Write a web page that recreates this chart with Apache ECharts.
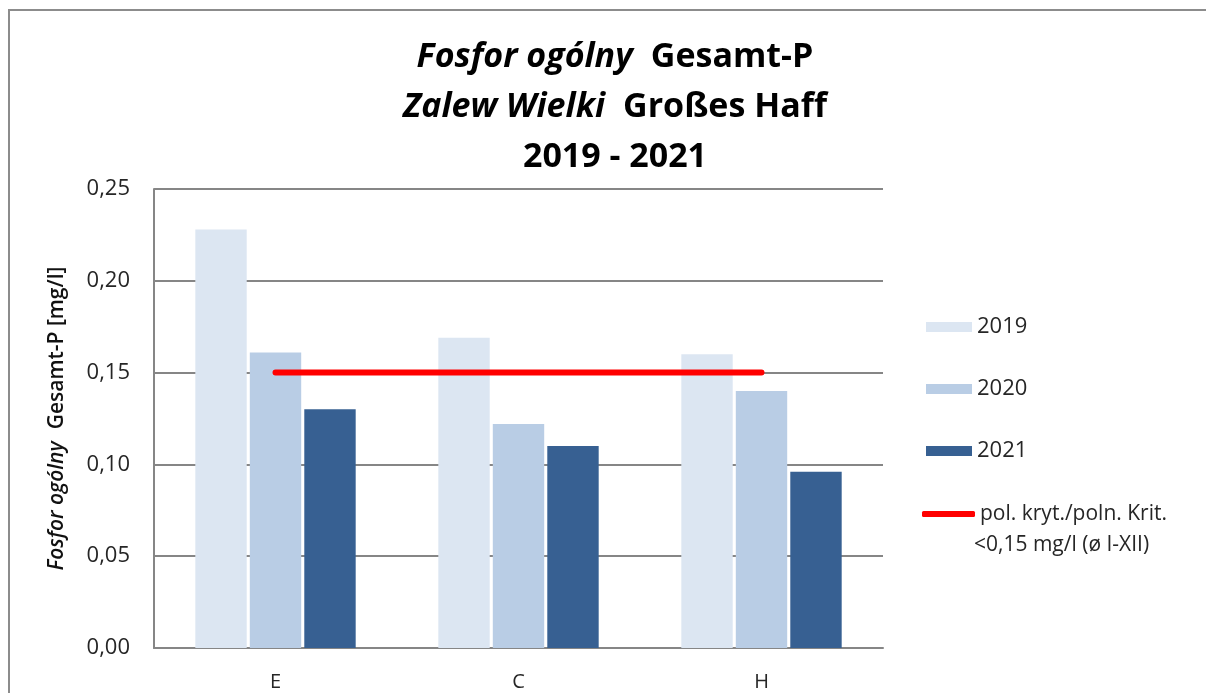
<!DOCTYPE html>
<html>
<head>
<meta charset="utf-8">
<script src="https://cdn.jsdelivr.net/npm/echarts@6/dist/echarts.min.js"></script>
<style>
  html, body { margin: 0; padding: 0; background: #fff; }
  #chart { width: 1206px; height: 693px; }
</style>
</head>
<body>
<div id="chart"></div>
<script>
// stations
const categories = ['E', 'C', 'H'];
// yearly means [mg/l]
const years = ['2019', '2020', '2021'];
const values2019 = [0.228, 0.169, 0.160];
const values2020 = [0.161, 0.122, 0.140];
const values2021 = [0.130, 0.110, 0.096];
// criterion line
const criterionName = 'pol. kryt./poln. Krit.';
const criterionNote = '<0,15 mg/l (ø I-XII)';
const criterion = [0.15, 0.15, 0.15];
const yTicks = [0, 0.05, 0.10, 0.15, 0.20, 0.25];

const barColors = ['#DCE6F2', '#B9CDE5', '#376092'];
const font = '"Open Sans", "Noto Sans", sans-serif';

const chart = echarts.init(document.getElementById('chart'));

const barSeries = [values2019, values2020, values2021].map((vals, i) => ({
    name: years[i],
    type: 'bar',
    data: vals,
    barGap: '6%',
    barCategoryGap: '34%',
    itemStyle: { color: barColors[i] },
    z: 2
}));

const option = {
    backgroundColor: '#fff',
    animation: false,
    textStyle: { fontFamily: font },
    title: {
        text: '{i|Fosfor ogólny}{s| }{b|Gesamt-P}\n{i|Zalew Wielki}{s| }{b|Großes Haff}\n{b|2019 - 2021}',
        left: 610,
        top: 27,
        textAlign: 'center',
        textStyle: {
            rich: {
                i: { fontFamily: font, fontSize: 34, fontWeight: 'bold', fontStyle: 'italic', color: '#000', lineHeight: 50 },
                b: { fontFamily: font, fontSize: 34, fontWeight: 'bold', color: '#000', lineHeight: 50 },
                s: { width: 18, fontSize: 34, lineHeight: 50 }
            }
        }
    },
    grid: { left: 154, right: 323, top: 189, bottom: 45 },
    legend: [{
        data: years,
        orient: 'vertical',
        left: 921,
        top: 310,
        itemWidth: 46,
        itemHeight: 10,
        itemGap: 38,
        icon: 'rect',
        textStyle: { fontFamily: font, fontSize: 22, color: '#262626', lineHeight: 24 }
    }, {
        data: [criterionName],
        orient: 'vertical',
        left: 917,
        top: 497,
        itemWidth: 53,
        itemHeight: 6,
        icon: 'roundRect',
        textStyle: { fontFamily: font, fontSize: 21, color: '#262626', lineHeight: 24 }
    }],
    graphic: [{
        type: 'text',
        left: 974,
        top: 535,
        style: { text: criterionNote, font: '21px ' + font, fill: '#262626' }
    }, {
        type: 'polyline',
        shape: { points: [[9, 700], [9, 10], [1210, 10]] },
        style: { stroke: '#8c8c8c', lineWidth: 2, fill: null }
    }],
    xAxis: {
        type: 'category',
        data: categories,
        axisLine: { lineStyle: { color: '#868686', width: 2 } },
        axisTick: { show: false },
        axisLabel: { fontFamily: font, fontSize: 20, color: '#262626', margin: 24 }
    },
    yAxis: {
        type: 'value',
        min: 0,
        max: 0.25,
        interval: 0.05,
        name: '{i|Fosfor ogólny}{s| }{b|Gesamt-P [mg/l]}',
        nameLocation: 'middle',
        nameGap: 86,
        nameRotate: 90,
        nameTextStyle: {
            rich: {
                i: { fontFamily: font, fontSize: 21, fontWeight: 600, fontStyle: 'italic', color: '#111' },
                b: { fontFamily: font, fontSize: 21, fontWeight: 600, color: '#111' },
                s: { width: 12, fontSize: 21 }
            }
        },
        axisLine: { show: true, lineStyle: { color: '#868686', width: 2 } },
        axisTick: { show: false },
        axisLabel: {
            fontFamily: font,
            fontSize: 22,
            color: '#262626',
            margin: 24,
            formatter: v => v.toFixed(2).replace('.', ',')
        },
        splitLine: { lineStyle: { color: '#868686', width: 2 } }
    },
    series: barSeries.concat([{
        name: criterionName,
        type: 'line',
        data: criterion,
        symbol: 'none',
        lineStyle: { color: '#FF0000', width: 6, cap: 'round' },
        itemStyle: { color: '#FF0000' },
        z: 5
    }])
};

chart.setOption(option);
</script>
</body>
</html>
